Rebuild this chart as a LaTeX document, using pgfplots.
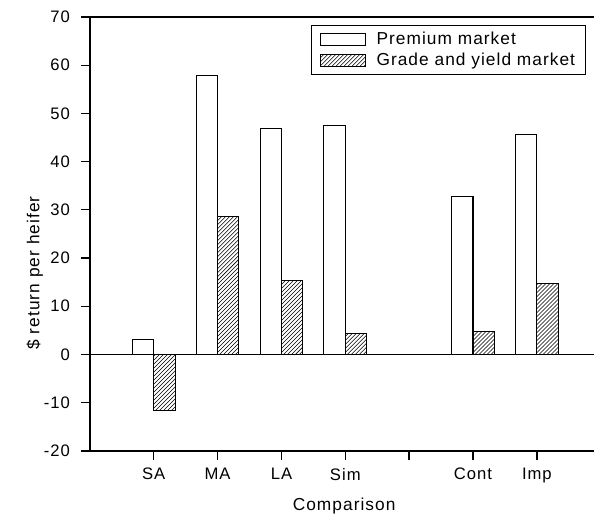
\documentclass[border=0pt]{standalone}
\usepackage{pgfplots}
\pgfplotsset{compat=1.18}
\usepackage{fontspec}
\setmainfont[LetterSpace=6]{Liberation Sans}
\usetikzlibrary{patterns}
\begin{document}
\begin{tikzpicture}
\begin{axis}[
  scale only axis, width=379pt, height=326pt,
  xmin=0, xmax=7.9, ymin=-20, ymax=70,
  axis x line*=box, axis y line*=left,
  xtick pos=bottom, ytick pos=left,
  tick align=outside, major tick length=6.5pt,
  axis line style={line width=1pt, -},
  tick style={black, line width=1pt},
  xtick={1,2,3,4,5,6,7}, xticklabels={SA,MA,LA,Sim,,Cont,Imp},
  ytick={-20,-10,0,10,20,30,40,50,60,70},
  /pgf/number format/assume math mode=true,
  ticklabel style={font=\fontsize{12.5}{14}\selectfont},
  xticklabel style={yshift=-3pt},
  yticklabel style={xshift=-5pt},
  xlabel={Comparison}, ylabel={\$ return per heifer},
  every axis x label/.style={at={(axis description cs:0.504,-0.126)}, anchor=center, font=\fontsize{13}{15}\selectfont},
  every axis y label/.style={at={(axis description cs:-0.109,0.41)}, anchor=center, rotate=90, font=\fontsize{13}{15}\selectfont},
  ybar=0pt, bar width=0.335,
  legend style={at={(rel axis cs:0.984,0.982)}, anchor=north east, draw=black, line width=0.8pt,
    font=\fontsize{13}{15}\selectfont, legend cell align=left, row sep=1pt, inner xsep=6pt, inner ysep=3pt},
  legend image code/.code={\draw[#1] (0pt,-4.5pt) rectangle (34pt,4.5pt); \path (40pt,0pt);},
]
\addplot[draw=black, fill=white, line width=0.8pt] coordinates {(1,3.1) (2,57.9) (3,46.8) (4,47.4) (6,32.7) (7,45.6)};
\addplot[draw=black, pattern=north east lines, line width=0.8pt] coordinates {(1,-11.6) (2,28.6) (3,15.3) (4,4.3) (6,4.8) (7,14.7)};
\legend{Premium market, Grade and yield market}
\draw[black, line width=0.8pt] (axis cs:0,0) -- (axis cs:7.9,0);
\end{axis}
\path[use as bounding box] ([xshift=-67.5pt,yshift=-48.75pt]current axis.south west) rectangle ([yshift=12.75pt]current axis.north east);
\end{tikzpicture}
\end{document}
